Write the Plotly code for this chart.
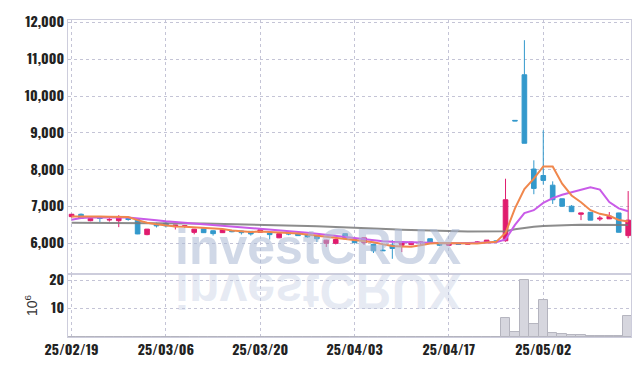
import plotly.graph_objects as go

# ---------------- data ----------------
dates = [
    "2025-02-19", "2025-02-20", "2025-02-21", "2025-02-24", "2025-02-25", "2025-02-26", "2025-02-27", "2025-02-28",
    "2025-03-04", "2025-03-05", "2025-03-06", "2025-03-07", "2025-03-10", "2025-03-11", "2025-03-12", "2025-03-13",
    "2025-03-14", "2025-03-17", "2025-03-18", "2025-03-19", "2025-03-20", "2025-03-21", "2025-03-24", "2025-03-25",
    "2025-03-26", "2025-03-27", "2025-03-28", "2025-03-31", "2025-04-01", "2025-04-02", "2025-04-03", "2025-04-04",
    "2025-04-07", "2025-04-08", "2025-04-09", "2025-04-10", "2025-04-11", "2025-04-14", "2025-04-15", "2025-04-16",
    "2025-04-17", "2025-04-18", "2025-04-21", "2025-04-22", "2025-04-23", "2025-04-24", "2025-04-25", "2025-04-28",
    "2025-04-29", "2025-04-30", "2025-05-02", "2025-05-07", "2025-05-08", "2025-05-09", "2025-05-12", "2025-05-13",
    "2025-05-14", "2025-05-15", "2025-05-16", "2025-05-19",
]

open_ = [6725, 6790, 6615, 6690, 6635, 6615, 6676, 6650, 6237, 6518,
         6545, 6455, 6465, 6298, 6395, 6342, 6290, 6350, 6335, 6325,
         6300, 6280, 6150, 6280, 6255, 6237, 6192, 6000, 6000, 6263,
         6105, 6018, 5974, 5815, 5955, 5947, 5966, 6018, 6124, 6018,
         5947, 5990, 5974, 6025, 6035, 6065, 6070, 9340, 10579, 8018,
         7842, 7579, 7210, 7008, 6790, 6842, 6660, 6666, 6825, 6210]
high = [6800, 6810, 6690, 6700, 6720, 6765, 6690, 6655, 6390, 6560,
        6580, 6500, 6480, 6390, 6400, 6350, 6370, 6360, 6340, 6330,
        6375, 6290, 6270, 6300, 6260, 6245, 6200, 6095, 6130, 6270,
        6110, 6160, 5990, 5974, 6087, 6040, 6040, 6060, 6130, 6025,
        6000, 6000, 6025, 6060, 6090, 6080, 7755, 9345, 11518, 8255,
        9070, 7684, 7215, 7040, 6830, 6850, 6745, 6850, 6830, 7420]
low = [6700, 6670, 6600, 6580, 6590, 6440, 6615, 6250, 6220, 6430,
       6430, 6376, 6420, 6245, 6280, 6210, 6280, 6300, 6240, 6210,
       6290, 6105, 6140, 6220, 6200, 6150, 6035, 5903, 5970, 6120,
       6000, 5960, 5737, 5795, 5580, 5763, 5950, 5950, 6000, 5930,
       5940, 5960, 5970, 5990, 6030, 6040, 6045, 9320, 8718, 7334,
       7597, 7070, 7000, 6850, 6630, 6630, 6605, 6660, 6300, 6140]
close = [6790, 6680, 6676, 6676, 6645, 6700, 6650, 6255, 6386, 6474,
         6474, 6500, 6475, 6386, 6290, 6263, 6368, 6315, 6290, 6255,
         6368, 6237, 6263, 6255, 6210, 6176, 6124, 6087, 6105, 6124,
         6018, 6150, 5797, 5800, 5860, 6035, 6035, 6035, 6018, 5947,
         5992, 5970, 6018, 6035, 6087, 6055, 7184, 9325, 8718, 7492,
         7710, 7184, 7008, 6860, 6825, 6630, 6684, 6737, 6300, 6630]

ma_short = [6730, 6735, 6735, 6730, 6725, 6720, 6715, 6630, 6560, 6520,
            6480, 6460, 6450, 6440, 6420, 6400, 6390, 6350, 6320, 6310,
            6320, 6300, 6290, 6280, 6270, 6240, 6210, 6170, 6140, 6120,
            6085, 6050, 6030, 5975, 5930, 5915, 5905, 5950, 5995, 6010,
            6005, 5990, 5985, 5995, 6020, 6040, 6280, 6950, 7475, 7756,
            8087, 8087, 7622, 7300, 7117, 6901, 6801, 6747, 6635, 6596]
ma_mid = [6640, 6690, 6700, 6705, 6705, 6705, 6700, 6680, 6655, 6630,
          6600, 6580, 6565, 6545, 6520, 6500, 6480, 6460, 6440, 6420,
          6390, 6370, 6350, 6330, 6310, 6290, 6260, 6230, 6200, 6180,
          6150, 6110, 6080, 6060, 6040, 6030, 6025, 6015, 6010, 6005,
          6000, 6000, 6005, 6010, 6020, 6030, 6105, 6500, 6820, 6900,
          7100, 7230, 7320, 7390, 7440, 7520, 7460, 7120, 6950, 6870]
ma_long = [6560, 6560, 6560, 6560, 6560, 6558, 6556, 6554, 6552, 6550,
           6548, 6546, 6544, 6540, 6536, 6532, 6528, 6524, 6520, 6515,
           6510, 6505, 6498, 6490, 6482, 6474, 6466, 6458, 6450, 6440,
           6430, 6418, 6406, 6394, 6382, 6370, 6360, 6350, 6340, 6335,
           6330, 6325, 6322, 6320, 6318, 6318, 6330, 6380, 6420, 6450,
           6470, 6485, 6495, 6500, 6505, 6505, 6505, 6505, 6500, 6500]

volume_m = [0.05, 0.04, 0.03, 0.03, 0.03, 0.04, 0.03, 0.05, 0.04, 0.03,
            0.03, 0.03, 0.03, 0.03, 0.03, 0.03, 0.03, 0.03, 0.03, 0.03,
            0.03, 0.03, 0.03, 0.03, 0.03, 0.03, 0.03, 0.04, 0.03, 0.03,
            0.03, 0.03, 0.05, 0.03, 0.05, 0.03, 0.03, 0.03, 0.03, 0.03,
            0.03, 0.03, 0.03, 0.03, 0.03, 0.03, 6.7, 1.6, 20.0, 4.7,
            12.8, 1.3, 0.9, 0.6, 0.6, 0.25, 0.25, 0.25, 0.5, 7.4]

tick_dates = ["2025-02-19", "2025-03-06", "2025-03-20", "2025-04-03", "2025-04-17", "2025-05-02"]
tick_labels = ["25/02/19", "25/03/06", "25/03/20", "25/04/03", "25/04/17", "25/05/02"]
price_ticks = [6000, 7000, 8000, 9000, 10000, 11000, 12000]
vol_ticks = [10, 20]
watermark = "investCRUX"

# ---------------- styles ----------------
UP = "#e01c6e"
DOWN = "#3399cc"
GRID = "#c4c4d6"
BORDER = "#cdcddc"
TICKFONT = dict(family="Oswald, Roboto Condensed, sans-serif",
                size=14, color="#222222", weight="bold")

fig = go.Figure()

fig.add_trace(go.Candlestick(
    x=dates, open=open_, high=high, low=low, close=close,
    increasing=dict(line=dict(color=UP, width=1), fillcolor=UP),
    decreasing=dict(line=dict(color=DOWN, width=1), fillcolor=DOWN),
    xaxis="x", yaxis="y", showlegend=False, hoverinfo="skip",
))
fig.add_trace(go.Scatter(x=dates, y=ma_long, mode="lines",
                         line=dict(color="rgba(120,120,120,0.85)", width=2),
                         xaxis="x", yaxis="y", showlegend=False, hoverinfo="skip"))
fig.add_trace(go.Scatter(x=dates, y=ma_mid, mode="lines",
                         line=dict(color="#c95be8", width=2),
                         xaxis="x", yaxis="y", showlegend=False, hoverinfo="skip"))
fig.add_trace(go.Scatter(x=dates, y=ma_short, mode="lines",
                         line=dict(color="#f0874c", width=2),
                         xaxis="x", yaxis="y", showlegend=False, hoverinfo="skip"))
fig.add_trace(go.Bar(x=dates, y=volume_m,
                     marker=dict(color="#d6d6de", line=dict(color="#b4b4be", width=1)),
                     xaxis="x2", yaxis="y2", showlegend=False, hoverinfo="skip"))

vol_frac = 0.1986
xrange_ = [-0.38, 59.3]

common_x = dict(type="category", range=xrange_, showgrid=True, gridcolor=GRID, griddash="dot",
                gridwidth=1, tickmode="array", tickvals=tick_dates, ticktext=tick_labels,
                showline=True, linecolor=BORDER, linewidth=1, mirror=True, ticks="",
                zeroline=False, fixedrange=True)

fig.update_layout(
    width=642, height=369,
    margin=dict(l=68, r=10, t=13, b=29),
    paper_bgcolor="white", plot_bgcolor="white",
    bargap=0,
    xaxis=dict(common_x, domain=[0, 1], anchor="y", showticklabels=False,
               rangeslider=dict(visible=False)),
    xaxis2=dict(common_x, domain=[0, 1], anchor="y2", matches="x", showticklabels=True,
                tickfont=TICKFONT),
    yaxis=dict(domain=[vol_frac, 1], range=[5166, 12066], tickvals=price_ticks,
               tickformat=",d", showgrid=True, gridcolor=GRID, griddash="dot",
               showline=True, linecolor=BORDER, mirror=True, ticks="", zeroline=False,
               tickfont=TICKFONT, fixedrange=True),
    yaxis2=dict(domain=[0, vol_frac], range=[0, 22.1], tickvals=vol_ticks,
                showgrid=True, gridcolor=GRID, griddash="dot",
                showline=True, linecolor=BORDER, mirror=True, ticks="", zeroline=False,
                tickfont=TICKFONT, fixedrange=True,
                title=dict(text="10<sup>6</sup>", standoff=8,
                           font=dict(family="Liberation Sans, Arial, sans-serif", size=14,
                                     color="#333333"))),
    annotations=[
        dict(text=watermark, xref="paper", yref="paper", x=0.4445, y=0.285,
             xanchor="center", yanchor="middle", showarrow=False,
             font=dict(family="Liberation Sans, Arial, sans-serif", size=50,
                       color="rgba(170,184,212,0.55)", weight="bold")),
        dict(text=watermark, xref="paper", yref="paper", x=0.4445, y=0.146,
             xanchor="center", yanchor="middle", showarrow=False,
             font=dict(family="Liberation Sans, Arial, sans-serif", size=50,
                       color="rgba(190,200,224,0.38)", weight="bold")),
    ],
)

post = """
document.body.style.margin = '0';
var gd = document.getElementById('{plot_id}');
function flipReflection(){
  var anns = gd.querySelectorAll('g.annotation');
  if (anns.length > 1) {
    var t = anns[1].querySelector('text');
    if (t) {
      var b = t.getBBox();
      var cy = b.y + b.height / 2;
      t.setAttribute('transform', 'translate(0,' + (2 * cy) + ') scale(1,-1)');
    }
  }
}
flipReflection();
if (gd.on) { gd.on('plotly_afterplot', flipReflection); }
"""

fig.write_html("out.html", post_script=post, config={"displayModeBar": False})
